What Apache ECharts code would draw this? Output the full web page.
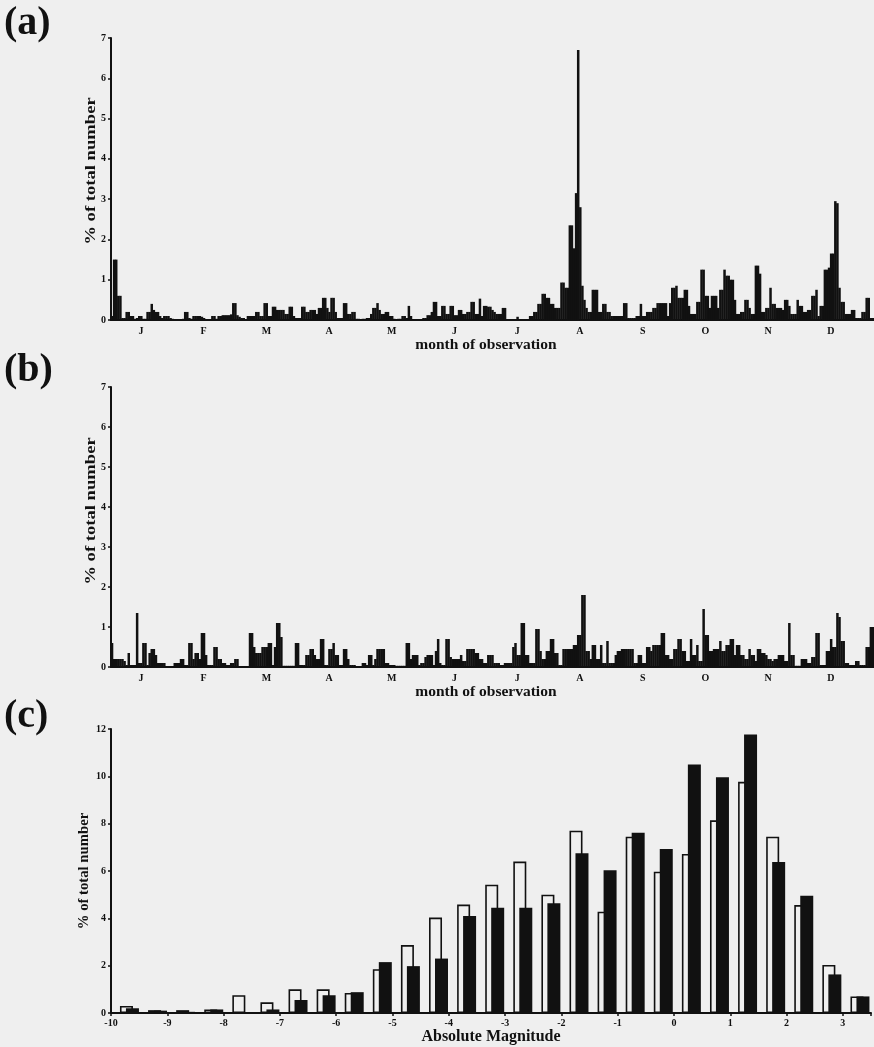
<!DOCTYPE html>
<html><head><meta charset="utf-8">
<script src="https://cdn.jsdelivr.net/npm/echarts@6/dist/echarts.min.js"></script>
<style>html,body{margin:0;padding:0;background:#efefef;}#c{width:874px;height:1047px;}</style>
</head><body><div id="c"></div>
<script>
// ---------- DATA ----------
const months = ['J','F','M','A','M','J','J','A','S','O','N','D'];
const dayIndex = Array.from({length: 365}, (_, i) => i + 1);

// (a) % of total number per day of year
const seriesA = [
0.1,1.5,1.5,0.6,0.6,0.05,0.05,0.2,0.2,0.1,
0.1,0.03,0.05,0.1,0.1,0.03,0.03,0.2,0.2,0.4,
0.25,0.2,0.2,0.1,0.05,0.1,0.1,0.1,0.05,0.03,
0.02,0,0.02,0.02,0.03,0.2,0.2,0.05,0.03,0.1,
0.1,0.1,0.1,0.08,0.05,0.02,0.02,0.02,0.1,0.1,
0.03,0.1,0.1,0.12,0.12,0.12,0.12,0.14,0.42,0.42,
0.12,0.08,0.05,0.05,0.02,0.1,0.1,0.1,0.1,0.2,
0.2,0.1,0.1,0.42,0.42,0.1,0.1,0.33,0.33,0.25,
0.25,0.25,0.25,0.15,0.15,0.33,0.33,0.1,0.05,0.05,
0.05,0.33,0.33,0.2,0.2,0.25,0.25,0.25,0.15,0.3,
0.3,0.55,0.55,0.3,0.2,0.55,0.55,0.2,0.05,0.05,
0.05,0.42,0.42,0.15,0.15,0.2,0.2,0.03,0.03,0.02,
0.03,0.03,0.05,0.05,0.15,0.3,0.3,0.42,0.25,0.15,
0.15,0.2,0.2,0.1,0.1,0.03,0.02,0.03,0.03,0.1,
0.1,0.05,0.35,0.1,0.02,0.02,0,0.02,0.02,0.05,
0.05,0.12,0.12,0.2,0.45,0.45,0.1,0.1,0.35,0.35,
0.15,0.15,0.35,0.35,0.12,0.12,0.25,0.25,0.15,0.15,
0.2,0.2,0.45,0.45,0.15,0.15,0.53,0.1,0.35,0.35,
0.33,0.33,0.25,0.2,0.15,0.15,0.15,0.3,0.3,0.02,
0.02,0,0.02,0.02,0.08,0.02,0.02,0,0.02,0.02,
0.1,0.1,0.2,0.2,0.4,0.4,0.65,0.65,0.55,0.55,
0.4,0.4,0.3,0.3,0.3,0.93,0.93,0.8,0.8,2.35,
2.35,1.78,3.15,6.7,2.8,0.85,0.5,0.3,0.2,0.2,
0.75,0.75,0.75,0.2,0.2,0.4,0.4,0.2,0.2,0.1,
0.1,0.1,0.1,0.1,0.1,0.42,0.42,0.05,0.05,0.05,
0.05,0.1,0.1,0.4,0.1,0.1,0.2,0.2,0.2,0.3,
0.3,0.42,0.42,0.42,0.42,0.42,0.1,0.42,0.8,0.8,
0.85,0.55,0.55,0.55,0.75,0.75,0.35,0.15,0.15,0.15,
0.45,0.45,1.25,1.25,0.6,0.6,0.3,0.6,0.6,0.6,
0.3,0.75,0.75,1.25,1.1,1.1,1.0,1.0,0.5,0.15,
0.15,0.2,0.2,0.5,0.5,0.3,0.15,0.15,1.35,1.35,
1.15,0.2,0.2,0.3,0.3,0.8,0.4,0.4,0.3,0.3,
0.3,0.25,0.5,0.5,0.35,0.15,0.15,0.15,0.5,0.35,
0.35,0.2,0.2,0.25,0.25,0.6,0.6,0.75,0.1,0.35,
0.35,1.25,1.25,1.3,1.65,1.65,2.95,2.9,0.8,0.45,
0.45,0.15,0.15,0.15,0.25,0.25,0.05,0.05,0.05,0.2,
0.2,0.55,0.55,0.05,0.05
];

// (b) % of total number per day of year
const seriesB = [
0.6,0.2,0.2,0.2,0.2,0.2,0.15,0.05,0.35,0.05,
0.05,0.05,1.35,0.1,0.1,0.6,0.6,0.05,0.35,0.45,
0.45,0.3,0.1,0.1,0.1,0.1,0.02,0.02,0.02,0.02,
0.1,0.1,0.1,0.2,0.2,0.05,0.05,0.6,0.6,0.2,
0.35,0.35,0.2,0.85,0.85,0.3,0.05,0.05,0.05,0.5,
0.5,0.2,0.2,0.1,0.1,0.05,0.05,0.1,0.1,0.2,
0.2,0.02,0.02,0.02,0.02,0.02,0.85,0.85,0.5,0.35,
0.35,0.35,0.5,0.5,0.5,0.6,0.6,0.05,0.5,1.1,
1.1,0.75,0.03,0.03,0.03,0.03,0.03,0.03,0.6,0.6,
0.05,0.05,0.05,0.3,0.3,0.45,0.45,0.3,0.2,0.2,
0.7,0.7,0.05,0.05,0.45,0.45,0.6,0.3,0.3,0.05,
0.05,0.45,0.45,0.2,0.05,0.05,0.05,0.02,0.02,0.02,
0.1,0.1,0.05,0.3,0.3,0.05,0.2,0.45,0.45,0.45,
0.45,0.1,0.1,0.05,0.05,0.05,0.03,0.03,0.03,0.03,
0.03,0.6,0.6,0.2,0.3,0.3,0.3,0.05,0.1,0.1,
0.25,0.3,0.3,0.3,0.05,0.4,0.7,0.1,0.05,0.05,
0.7,0.7,0.25,0.2,0.2,0.2,0.2,0.3,0.15,0.15,
0.45,0.45,0.45,0.45,0.35,0.35,0.2,0.2,0.1,0.1,
0.3,0.3,0.3,0.1,0.1,0.1,0.05,0.05,0.1,0.1,
0.1,0.1,0.5,0.6,0.3,0.3,1.1,1.1,0.3,0.3,
0.1,0.1,0.1,0.95,0.95,0.4,0.2,0.2,0.4,0.4,
0.7,0.7,0.35,0.35,0.05,0.05,0.45,0.45,0.45,0.45,
0.45,0.55,0.55,0.8,0.8,1.8,1.8,0.4,0.4,0.2,
0.55,0.55,0.2,0.2,0.55,0.1,0.1,0.65,0.1,0.1,
0.1,0.3,0.4,0.4,0.45,0.45,0.45,0.45,0.45,0.45,
0.1,0.1,0.3,0.3,0.1,0.1,0.5,0.5,0.4,0.55,
0.55,0.55,0.55,0.85,0.85,0.3,0.3,0.2,0.2,0.45,
0.45,0.7,0.7,0.4,0.4,0.15,0.15,0.7,0.3,0.3,
0.55,0.15,0.15,1.45,0.8,0.8,0.4,0.4,0.45,0.45,
0.45,0.65,0.4,0.4,0.55,0.55,0.7,0.7,0.3,0.55,
0.55,0.3,0.3,0.2,0.2,0.45,0.3,0.3,0.15,0.45,
0.45,0.35,0.35,0.3,0.2,0.2,0.15,0.2,0.2,0.3,
0.3,0.3,0.15,0.15,1.1,0.3,0.3,0.03,0.03,0.03,
0.2,0.2,0.2,0.1,0.1,0.25,0.25,0.85,0.85,0.05,
0.05,0.05,0.4,0.4,0.7,0.5,0.5,1.35,1.25,0.65,
0.65,0.1,0.1,0.05,0.05,0.05,0.15,0.15,0.05,0.05,
0.05,0.5,0.5,1.0,1.0
];

// (c) absolute magnitude distribution, 0.5-mag bins
const magBins = ['-10','-9.5','-9','-8.5','-8','-7.5','-7','-6.5','-6','-5.5','-5','-4.5','-4','-3.5',
                 '-3','-2.5','-2','-1.5','-1','-0.5','0','0.5','1','1.5','2','2.5','3'];
const magOpen   = [0.3,0.12,0.12,0.15,0.75,0.45,1.0,1.0,0.85,1.85,2.87,4.03,4.58,5.42,
                   6.4,5.0,7.7,4.28,7.45,5.97,6.72,8.14,9.77,7.45,4.56,2.03,0.7];
const magFilled = [0.2,0.1,0.05,0.15,0,0.15,0.55,0.75,0.88,2.15,1.98,2.3,4.1,4.45,
                   4.45,4.64,6.75,6.03,7.62,6.93,10.5,9.96,11.77,6.38,4.95,1.63,0.7];

// ---------- STYLE ----------
const BG = '#efefef';
const INK = '#111111';
const F = "'Liberation Serif','Times New Roman',serif";

const chart = echarts.init(document.getElementById('c'), null, {renderer: 'canvas'});

function dayAxis(g) {
  return {type: 'category', gridIndex: g, data: dayIndex, boundaryGap: true,
    axisLine: {show: true, lineStyle: {color: INK, width: 2}},
    axisTick: {show: false}, axisLabel: {show: false}, splitLine: {show: false}};
}
function monthAxis(g) {
  return {type: 'category', gridIndex: g, data: months, boundaryGap: true,
    axisLine: {show: false}, axisTick: {show: false}, splitLine: {show: false},
    axisLabel: {fontFamily: F, fontWeight: 'bold', fontSize: 10, color: INK, margin: 6},
    name: 'month of observation', nameLocation: 'middle', nameGap: 15,
    nameTextStyle: {fontFamily: F, fontWeight: 'bold', fontSize: 15.5, color: INK}};
}
function pctAxis(g, max, interval, show) {
  return {type: 'value', gridIndex: g, min: 0, max: max, interval: interval, show: show,
    axisLine: {show: true, onZero: false, lineStyle: {color: INK, width: 2}},
    axisTick: {show: true, length: 3, lineStyle: {color: INK, width: 1.5}},
    axisLabel: {fontFamily: F, fontWeight: 'bold', fontSize: 10, color: INK, margin: 5},
    splitLine: {show: false}};
}
function yName(x, y, sx) {
  return {type: 'text', x: x, y: y, rotation: Math.PI / 2, scaleX: sx, scaleY: 1, z: 10,
    style: {text: '% of total number', font: 'bold 14px ' + F, fill: INK,
      align: 'center', verticalAlign: 'middle', textAlign: 'center', textVerticalAlign: 'middle'}};
}
function panelTag(t, x, y) {
  return {type: 'text', x: x, y: y, z: 10,
    style: {text: t, font: 'bold 40px ' + F, fill: INK,
      align: 'left', verticalAlign: 'middle', textAlign: 'left', textVerticalAlign: 'middle'}};
}

const option = {
  backgroundColor: BG,
  animation: false,
  grid: [
    {left: 111, top: 38, width: 763, height: 282},
    {left: 109.6, top: 38, width: 752.6, height: 282},
    {left: 111, top: 387, width: 763, height: 280},
    {left: 109.6, top: 387, width: 752.6, height: 280},
    {left: 115.4, top: 729, width: 762.2, height: 284},
    {left: 111, top: 729, width: 766, height: 284}
  ],
  xAxis: [
    dayAxis(0), monthAxis(1), dayAxis(2), monthAxis(3),
    {type: 'category', gridIndex: 4, data: magBins, show: false},
    {type: 'value', gridIndex: 5, min: -10, max: 3.5, interval: 1,
      axisLine: {show: true, onZero: false, lineStyle: {color: INK, width: 2}},
      axisTick: {show: true, length: 3, lineStyle: {color: INK, width: 1.5}},
      axisLabel: {fontFamily: F, fontWeight: 'bold', fontSize: 10, color: INK, margin: 5,
        formatter: v => Number.isInteger(v) ? String(v) : ''},
      splitLine: {show: false},
      name: 'Absolute Magnitude', nameLocation: 'middle', nameGap: 16,
      nameTextStyle: {fontFamily: F, fontWeight: 'bold', fontSize: 16, color: INK}}
  ],
  yAxis: [
    pctAxis(0, 7, 1, true), pctAxis(1, 7, 1, false),
    pctAxis(2, 7, 1, true), pctAxis(3, 7, 1, false),
    pctAxis(4, 12, 2, false), pctAxis(5, 12, 2, true)
  ],
  series: [
    {type: 'bar', xAxisIndex: 0, yAxisIndex: 0, data: seriesA, barWidth: 2.5,
      itemStyle: {color: INK}, silent: true},
    {type: 'bar', xAxisIndex: 2, yAxisIndex: 2, data: seriesB, barWidth: 2.5,
      itemStyle: {color: INK}, silent: true},
    {type: 'bar', xAxisIndex: 4, yAxisIndex: 4, data: magOpen, barWidth: 13, barGap: '-54%',
      itemStyle: {color: BG, borderColor: INK, borderWidth: 1.6}, silent: true},
    {type: 'bar', xAxisIndex: 4, yAxisIndex: 4, data: magFilled, barWidth: 13, barGap: '-54%',
      itemStyle: {color: INK}, silent: true}
  ],
  graphic: [
    panelTag('(a)', 4, 24), panelTag('(b)', 4, 371), panelTag('(c)', 4, 717),
    yName(91, 171, 1.33), yName(91, 511, 1.33), yName(84, 871, 1.05)
  ]
};
chart.setOption(option);
</script>
</body></html>
